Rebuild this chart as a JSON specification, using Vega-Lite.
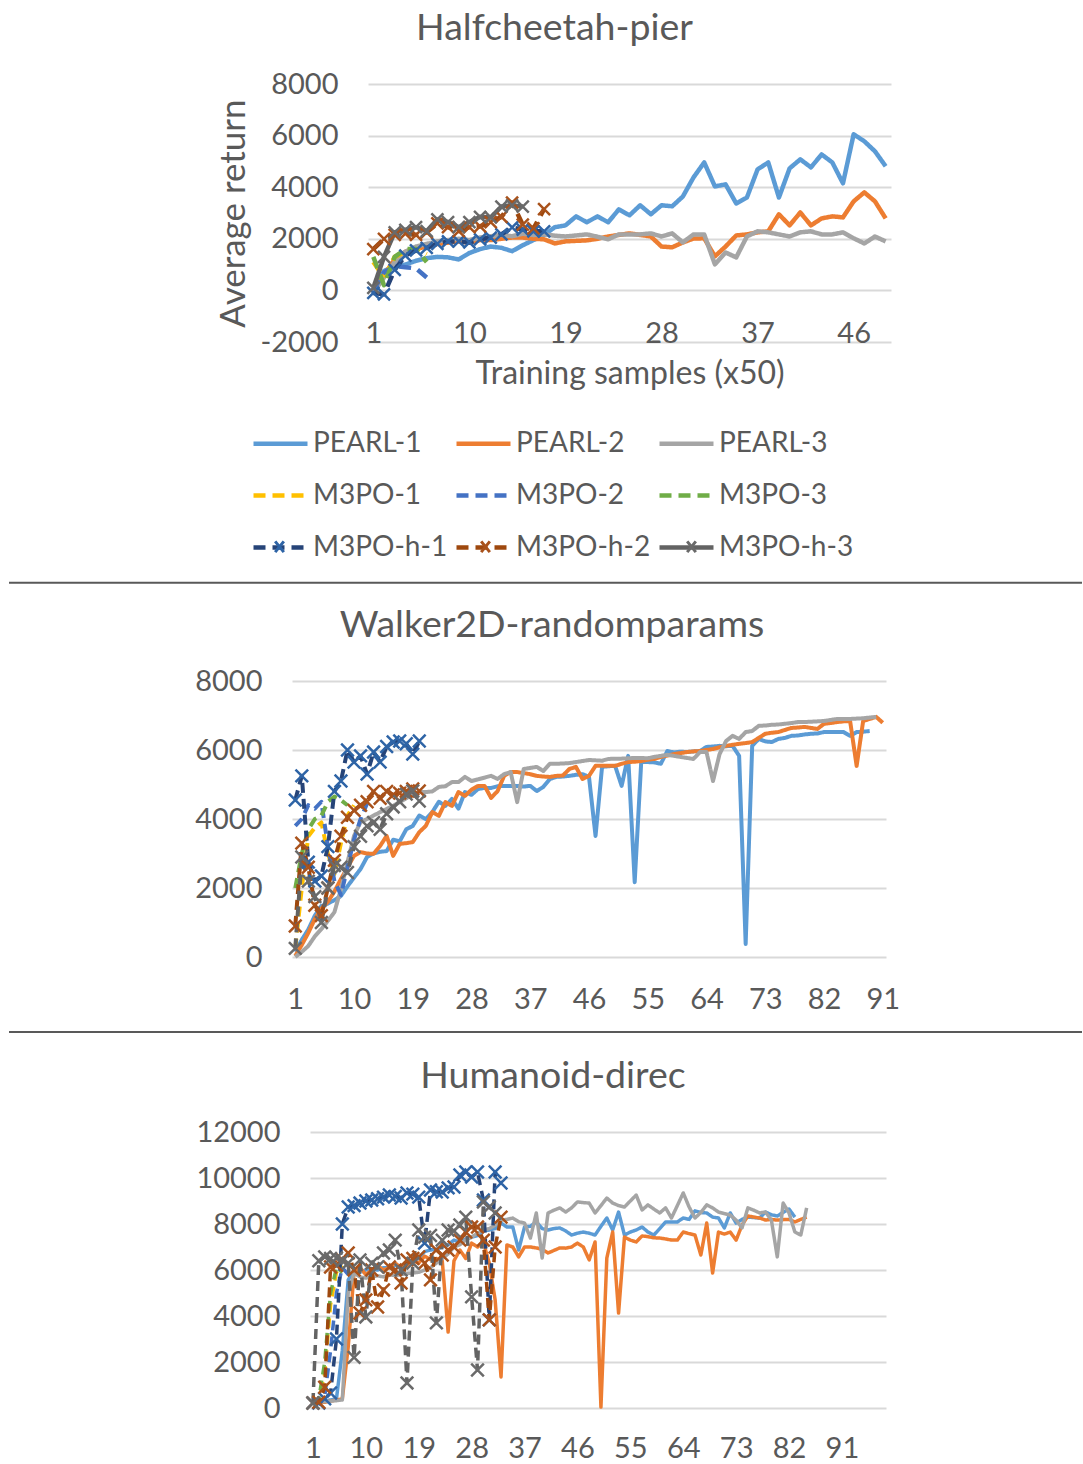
{
"$schema": "https://vega.github.io/schema/vega-lite/v6.json",
"background": "white",
"padding": {"left": 8, "top": 9, "right": 0, "bottom": 0},
"config": {
  "font": "Lato",
  "view": {"stroke": null},
  "axis": {"domain": false, "ticks": false, "tickSize": 0, "labelFont": "Lato", "labelFontSize": 29, "labelColor": "#595959", "labelFlush": false, "labelOverlap": false, "titleFont": "Lato", "titleFontSize": 33, "titleColor": "#595959", "titleFontWeight": "normal", "gridColor": "#D9D9D9", "gridWidth": 2},
  "axisX": {"grid": false, "labelAngle": 0, "labelBaseline": "middle"},
  "axisY": {"grid": true, "labelPadding": 30},
  "title": {"font": "Lato", "fontSize": 37.5, "color": "#595959", "fontWeight": "normal", "frame": "group", "anchor": "middle", "baseline": "middle", "offset": 23},
  "line": {"strokeJoin": "round", "strokeCap": "butt"}
},
"spacing": 16,
"resolve": {"scale": {"color": "independent", "strokeDash": "independent", "stroke": "independent"}},
"vconcat": [
{
  "spacing": 0,
  "resolve": {"scale": {"color": "independent", "strokeDash": "independent", "stroke": "independent"}},
  "hconcat": [
    {"width": 207, "height": 10, "data": {"values": []}, "mark": "point"},
    {
      "width": 523, "height": 258,
      "title": {"text": "Halfcheetah-pier", "dx": -75},
      "data": {"values": [
{"run":"PEARL-1","n":1,"ret":100},{"run":"PEARL-1","n":2,"ret":750},{"run":"PEARL-1","n":3,"ret":950},{"run":"PEARL-1","n":4,"ret":1000},{"run":"PEARL-1","n":5,"ret":1150},{"run":"PEARL-1","n":6,"ret":1250},{"run":"PEARL-1","n":7,"ret":1300},{"run":"PEARL-1","n":8,"ret":1280},{"run":"PEARL-1","n":9,"ret":1200},{"run":"PEARL-1","n":10,"ret":1450},
{"run":"PEARL-1","n":11,"ret":1600},{"run":"PEARL-1","n":12,"ret":1700},{"run":"PEARL-1","n":13,"ret":1650},{"run":"PEARL-1","n":14,"ret":1520},{"run":"PEARL-1","n":15,"ret":1750},{"run":"PEARL-1","n":16,"ret":1950},{"run":"PEARL-1","n":17,"ret":2150},{"run":"PEARL-1","n":18,"ret":2450},{"run":"PEARL-1","n":19,"ret":2520},{"run":"PEARL-1","n":20,"ret":2870},
{"run":"PEARL-1","n":21,"ret":2640},{"run":"PEARL-1","n":22,"ret":2870},{"run":"PEARL-1","n":23,"ret":2640},{"run":"PEARL-1","n":24,"ret":3140},{"run":"PEARL-1","n":25,"ret":2910},{"run":"PEARL-1","n":26,"ret":3300},{"run":"PEARL-1","n":27,"ret":2950},{"run":"PEARL-1","n":28,"ret":3300},{"run":"PEARL-1","n":29,"ret":3260},{"run":"PEARL-1","n":30,"ret":3640},
{"run":"PEARL-1","n":31,"ret":4380},{"run":"PEARL-1","n":32,"ret":4960},{"run":"PEARL-1","n":33,"ret":4030},{"run":"PEARL-1","n":34,"ret":4110},{"run":"PEARL-1","n":35,"ret":3370},{"run":"PEARL-1","n":36,"ret":3600},{"run":"PEARL-1","n":37,"ret":4690},{"run":"PEARL-1","n":38,"ret":4960},{"run":"PEARL-1","n":39,"ret":3600},{"run":"PEARL-1","n":40,"ret":4730},
{"run":"PEARL-1","n":41,"ret":5080},{"run":"PEARL-1","n":42,"ret":4770},{"run":"PEARL-1","n":43,"ret":5270},{"run":"PEARL-1","n":44,"ret":4960},{"run":"PEARL-1","n":45,"ret":4150},{"run":"PEARL-1","n":46,"ret":6050},{"run":"PEARL-1","n":47,"ret":5780},{"run":"PEARL-1","n":48,"ret":5390},{"run":"PEARL-1","n":49,"ret":4810},
{"run":"PEARL-2","n":1,"ret":0},{"run":"PEARL-2","n":2,"ret":600},{"run":"PEARL-2","n":3,"ret":1200},{"run":"PEARL-2","n":4,"ret":1500},{"run":"PEARL-2","n":5,"ret":1600},{"run":"PEARL-2","n":6,"ret":1700},{"run":"PEARL-2","n":7,"ret":1800},{"run":"PEARL-2","n":8,"ret":1850},{"run":"PEARL-2","n":9,"ret":1900},{"run":"PEARL-2","n":10,"ret":1850},
{"run":"PEARL-2","n":11,"ret":1950},{"run":"PEARL-2","n":12,"ret":1950},{"run":"PEARL-2","n":13,"ret":2000},{"run":"PEARL-2","n":14,"ret":2050},{"run":"PEARL-2","n":15,"ret":2050},{"run":"PEARL-2","n":16,"ret":2000},{"run":"PEARL-2","n":17,"ret":1980},{"run":"PEARL-2","n":18,"ret":1820},{"run":"PEARL-2","n":19,"ret":1900},{"run":"PEARL-2","n":20,"ret":1920},
{"run":"PEARL-2","n":21,"ret":1940},{"run":"PEARL-2","n":22,"ret":2000},{"run":"PEARL-2","n":23,"ret":2090},{"run":"PEARL-2","n":24,"ret":2150},{"run":"PEARL-2","n":25,"ret":2210},{"run":"PEARL-2","n":26,"ret":2150},{"run":"PEARL-2","n":27,"ret":2090},{"run":"PEARL-2","n":28,"ret":1700},{"run":"PEARL-2","n":29,"ret":1670},{"run":"PEARL-2","n":30,"ret":1860},
{"run":"PEARL-2","n":31,"ret":2010},{"run":"PEARL-2","n":32,"ret":2020},{"run":"PEARL-2","n":33,"ret":1320},{"run":"PEARL-2","n":34,"ret":1700},{"run":"PEARL-2","n":35,"ret":2130},{"run":"PEARL-2","n":36,"ret":2170},{"run":"PEARL-2","n":37,"ret":2250},{"run":"PEARL-2","n":38,"ret":2290},{"run":"PEARL-2","n":39,"ret":2950},{"run":"PEARL-2","n":40,"ret":2520},
{"run":"PEARL-2","n":41,"ret":3020},{"run":"PEARL-2","n":42,"ret":2520},{"run":"PEARL-2","n":43,"ret":2790},{"run":"PEARL-2","n":44,"ret":2870},{"run":"PEARL-2","n":45,"ret":2830},{"run":"PEARL-2","n":46,"ret":3450},{"run":"PEARL-2","n":47,"ret":3800},{"run":"PEARL-2","n":48,"ret":3450},{"run":"PEARL-2","n":49,"ret":2790},
{"run":"PEARL-3","n":1,"ret":-100},{"run":"PEARL-3","n":2,"ret":500},{"run":"PEARL-3","n":3,"ret":1100},{"run":"PEARL-3","n":4,"ret":1500},{"run":"PEARL-3","n":5,"ret":1700},{"run":"PEARL-3","n":6,"ret":1800},{"run":"PEARL-3","n":7,"ret":1900},{"run":"PEARL-3","n":8,"ret":1950},{"run":"PEARL-3","n":9,"ret":2000},{"run":"PEARL-3","n":10,"ret":1950},
{"run":"PEARL-3","n":11,"ret":2050},{"run":"PEARL-3","n":12,"ret":2100},{"run":"PEARL-3","n":13,"ret":2150},{"run":"PEARL-3","n":14,"ret":2100},{"run":"PEARL-3","n":15,"ret":2200},{"run":"PEARL-3","n":16,"ret":2150},{"run":"PEARL-3","n":17,"ret":2170},{"run":"PEARL-3","n":18,"ret":2120},{"run":"PEARL-3","n":19,"ret":2090},{"run":"PEARL-3","n":20,"ret":2130},
{"run":"PEARL-3","n":21,"ret":2170},{"run":"PEARL-3","n":22,"ret":2080},{"run":"PEARL-3","n":23,"ret":1980},{"run":"PEARL-3","n":24,"ret":2170},{"run":"PEARL-3","n":25,"ret":2170},{"run":"PEARL-3","n":26,"ret":2170},{"run":"PEARL-3","n":27,"ret":2210},{"run":"PEARL-3","n":28,"ret":2090},{"run":"PEARL-3","n":29,"ret":2210},{"run":"PEARL-3","n":30,"ret":1860},
{"run":"PEARL-3","n":31,"ret":2170},{"run":"PEARL-3","n":32,"ret":2170},{"run":"PEARL-3","n":33,"ret":1010},{"run":"PEARL-3","n":34,"ret":1470},{"run":"PEARL-3","n":35,"ret":1280},{"run":"PEARL-3","n":36,"ret":2090},{"run":"PEARL-3","n":37,"ret":2290},{"run":"PEARL-3","n":38,"ret":2250},{"run":"PEARL-3","n":39,"ret":2170},{"run":"PEARL-3","n":40,"ret":2090},
{"run":"PEARL-3","n":41,"ret":2250},{"run":"PEARL-3","n":42,"ret":2290},{"run":"PEARL-3","n":43,"ret":2170},{"run":"PEARL-3","n":44,"ret":2170},{"run":"PEARL-3","n":45,"ret":2250},{"run":"PEARL-3","n":46,"ret":2020},{"run":"PEARL-3","n":47,"ret":1820},{"run":"PEARL-3","n":48,"ret":2090},{"run":"PEARL-3","n":49,"ret":1900},
{"run":"M3PO-1","n":1,"ret":1100},{"run":"M3PO-1","n":2,"ret":500},{"run":"M3PO-1","n":3,"ret":1300},{"run":"M3PO-1","n":4,"ret":1500},{"run":"M3PO-1","n":5,"ret":1600},{"run":"M3PO-1","n":6,"ret":1400},
{"run":"M3PO-2","n":1,"ret":0},{"run":"M3PO-2","n":2,"ret":700},{"run":"M3PO-2","n":3,"ret":950},{"run":"M3PO-2","n":4,"ret":900},{"run":"M3PO-2","n":5,"ret":850},{"run":"M3PO-2","n":6,"ret":500},
{"run":"M3PO-3","n":1,"ret":1300},{"run":"M3PO-3","n":2,"ret":200},{"run":"M3PO-3","n":3,"ret":1300},{"run":"M3PO-3","n":4,"ret":1600},{"run":"M3PO-3","n":5,"ret":1600},{"run":"M3PO-3","n":6,"ret":1100},
{"run":"M3PO-h-1","n":1,"ret":-100},{"run":"M3PO-h-1","n":2,"ret":-150},{"run":"M3PO-h-1","n":3,"ret":800},{"run":"M3PO-h-1","n":4,"ret":1350},{"run":"M3PO-h-1","n":5,"ret":1550},{"run":"M3PO-h-1","n":6,"ret":1650},{"run":"M3PO-h-1","n":7,"ret":1800},{"run":"M3PO-h-1","n":8,"ret":1900},{"run":"M3PO-h-1","n":9,"ret":1900},{"run":"M3PO-h-1","n":10,"ret":1860},{"run":"M3PO-h-1","n":11,"ret":1980},{"run":"M3PO-h-1","n":12,"ret":2050},{"run":"M3PO-h-1","n":13,"ret":2170},{"run":"M3PO-h-1","n":14,"ret":2440},{"run":"M3PO-h-1","n":15,"ret":2360},{"run":"M3PO-h-1","n":16,"ret":2290},{"run":"M3PO-h-1","n":17,"ret":2290},
{"run":"M3PO-h-2","n":1,"ret":1600},{"run":"M3PO-h-2","n":2,"ret":2000},{"run":"M3PO-h-2","n":3,"ret":2150},{"run":"M3PO-h-2","n":4,"ret":2200},{"run":"M3PO-h-2","n":5,"ret":2150},{"run":"M3PO-h-2","n":6,"ret":2250},{"run":"M3PO-h-2","n":7,"ret":2600},{"run":"M3PO-h-2","n":8,"ret":2450},{"run":"M3PO-h-2","n":9,"ret":2300},{"run":"M3PO-h-2","n":10,"ret":2450},{"run":"M3PO-h-2","n":11,"ret":2480},{"run":"M3PO-h-2","n":12,"ret":2650},{"run":"M3PO-h-2","n":13,"ret":2850},{"run":"M3PO-h-2","n":14,"ret":3400},{"run":"M3PO-h-2","n":15,"ret":2550},{"run":"M3PO-h-2","n":16,"ret":2400},{"run":"M3PO-h-2","n":17,"ret":3150},
{"run":"M3PO-h-3","n":1,"ret":100},{"run":"M3PO-h-3","n":2,"ret":1300},{"run":"M3PO-h-3","n":3,"ret":2250},{"run":"M3PO-h-3","n":4,"ret":2350},{"run":"M3PO-h-3","n":5,"ret":2450},{"run":"M3PO-h-3","n":6,"ret":2300},{"run":"M3PO-h-3","n":7,"ret":2750},{"run":"M3PO-h-3","n":8,"ret":2650},{"run":"M3PO-h-3","n":9,"ret":2450},{"run":"M3PO-h-3","n":10,"ret":2650},{"run":"M3PO-h-3","n":11,"ret":2850},{"run":"M3PO-h-3","n":12,"ret":2830},{"run":"M3PO-h-3","n":13,"ret":3250},{"run":"M3PO-h-3","n":14,"ret":3300},{"run":"M3PO-h-3","n":15,"ret":3250}
      ]},
      "encoding": {
        "x": {"field": "n", "type": "quantitative", "scale": {"domain": [0.5, 49.5], "nice": false, "zero": false},
              "axis": {"values": [1,10,19,28,37,46], "labelExpr": "'' + datum.value", "title": "Training samples (x50)", "titleFontSize": 32, "offset": -9, "labelPadding": 0, "titlePadding": 10}},
        "y": {"field": "ret", "type": "quantitative", "scale": {"domain": [-2000, 8000], "nice": false, "zero": false},
              "axis": {"values": [-2000,0,2000,4000,6000,8000], "labelExpr": "'' + datum.value", "title": "Average return", "titleFontSize": 35, "titlePadding": 8}}
      },
      "layer": [
        {
          "transform": [{"filter": "indexof(datum.run, 'PEARL') == 0"}],
          "mark": {"type": "line", "strokeWidth": 4.5},
          "encoding": {
            "color": {"field": "run", "type": "nominal",
              "scale": {"domain": ["PEARL-1","PEARL-2","PEARL-3","M3PO-1","M3PO-2","M3PO-3","M3PO-h-1","M3PO-h-2","M3PO-h-3"], "range": ["#5B9BD5","#ED7D31","#A5A5A5","#FFC000","#4472C4","#70AD47","#264478","#9E480E","#636363"]},
              "legend": {"orient": "none", "legendX": -117, "legendY": 330, "title": null, "columns": 3, "direction": "horizontal", "gridAlign": "all", "symbolType": "stroke", "symbolSize": 2916, "symbolStrokeWidth": 4.5, "labelFont": "Lato", "labelFontSize": 28, "labelColor": "#595959", "labelOffset": 3, "labelLimit": 400, "columnPadding": 6, "rowPadding": 8, "padding": 0, "symbolLimit": 0}},
            "strokeDash": {"field": "run", "type": "nominal",
              "scale": {"domain": ["PEARL-1","PEARL-2","PEARL-3","M3PO-1","M3PO-2","M3PO-3","M3PO-h-1","M3PO-h-2","M3PO-h-3"], "range": [[1,0],[1,0],[1,0],[12,7],[12,7],[12,7],[12,7],[12,7],[1,0]]},
              "legend": null}
          }
        },
        {
          "transform": [{"filter": "indexof(datum.run, 'M3PO') == 0"}],
          "mark": {"type": "line", "strokeWidth": 4.5},
          "encoding": {
            "color": {"field": "run", "type": "nominal",
              "scale": {"domain": ["PEARL-1","PEARL-2","PEARL-3","M3PO-1","M3PO-2","M3PO-3","M3PO-h-1","M3PO-h-2","M3PO-h-3"], "range": ["#5B9BD5","#ED7D31","#A5A5A5","#FFC000","#4472C4","#70AD47","#264478","#9E480E","#636363"]},
              "legend": null},
            "strokeDash": {"field": "run", "type": "nominal",
              "scale": {"domain": ["PEARL-1","PEARL-2","PEARL-3","M3PO-1","M3PO-2","M3PO-3","M3PO-h-1","M3PO-h-2","M3PO-h-3"], "range": [[1,0],[1,0],[1,0],[12,7],[12,7],[12,7],[12,7],[12,7],[1,0]]},
              "legend": null}
          }
        },
        {
          "transform": [{"filter": "indexof(datum.run, 'M3PO-h') == 0"}],
          "mark": {"type": "point", "shape": "M-1,-1L1,1M-1,1L1,-1", "filled": false, "strokeWidth": 2.5, "size": 144, "opacity": 1},
          "encoding": {
            "stroke": {"field": "run", "type": "nominal", "scale": {"domain": ["M3PO-h-1","M3PO-h-2","M3PO-h-3"], "range": ["#2E64A6","#A9521B","#6A6A6A"]},
              "legend": {"orient": "none", "legendX": -117, "legendY": 434, "title": null, "columns": 3, "direction": "horizontal", "gridAlign": "all", "symbolType": "M-0.16,-0.2L0.16,0.2M-0.16,0.2L0.16,-0.2", "symbolSize": 2916, "symbolStrokeWidth": 3, "symbolFillColor": "transparent", "labelFont": "Lato", "labelFontSize": 28, "labelExpr": "''", "labelOffset": 3, "labelLimit": 400, "columnPadding": 146, "rowPadding": 8, "padding": 0, "symbolLimit": 0}}
          }
        }
      ]
    }
  ]
},
{
  "width": 1073, "height": 12,
  "data": {"values": [{"part": "divider"}]},
  "mark": {"type": "rule", "color": "#595959", "strokeWidth": 2},
  "encoding": {"y": {"datum": 0.6, "type": "quantitative", "scale": {"domain": [0, 1]}, "axis": null}}
},
{
  "spacing": 0,
  "resolve": {"scale": {"color": "independent", "strokeDash": "independent", "stroke": "independent"}},
  "hconcat": [
    {"width": 185, "height": 10, "data": {"values": []}, "mark": "point"},
    {
      "width": 594, "height": 276,
      "title": {"text": "Walker2D-randomparams", "dx": -37},
      "data": {"values": [
{"run":"PEARL-1","n":1,"ret":150},{"run":"PEARL-1","n":2,"ret":500},{"run":"PEARL-1","n":3,"ret":800},{"run":"PEARL-1","n":4,"ret":1200},{"run":"PEARL-1","n":5,"ret":1480},{"run":"PEARL-1","n":6,"ret":1550},{"run":"PEARL-1","n":7,"ret":1650},{"run":"PEARL-1","n":8,"ret":1770},{"run":"PEARL-1","n":9,"ret":2050},{"run":"PEARL-1","n":10,"ret":2300},
{"run":"PEARL-1","n":11,"ret":2550},{"run":"PEARL-1","n":12,"ret":2900},{"run":"PEARL-1","n":13,"ret":3000},{"run":"PEARL-1","n":14,"ret":3050},{"run":"PEARL-1","n":15,"ret":3070},{"run":"PEARL-1","n":16,"ret":3400},{"run":"PEARL-1","n":17,"ret":3350},{"run":"PEARL-1","n":18,"ret":3700},{"run":"PEARL-1","n":19,"ret":3800},{"run":"PEARL-1","n":20,"ret":4100},
{"run":"PEARL-1","n":21,"ret":4000},{"run":"PEARL-1","n":22,"ret":4200},{"run":"PEARL-1","n":23,"ret":4500},{"run":"PEARL-1","n":24,"ret":4380},{"run":"PEARL-1","n":25,"ret":4580},{"run":"PEARL-1","n":26,"ret":4300},{"run":"PEARL-1","n":27,"ret":4780},{"run":"PEARL-1","n":28,"ret":4700},{"run":"PEARL-1","n":29,"ret":4870},{"run":"PEARL-1","n":30,"ret":4900},
{"run":"PEARL-1","n":31,"ret":4900},{"run":"PEARL-1","n":32,"ret":4950},{"run":"PEARL-1","n":33,"ret":4960},{"run":"PEARL-1","n":34,"ret":4960},{"run":"PEARL-1","n":35,"ret":4960},{"run":"PEARL-1","n":36,"ret":4940},{"run":"PEARL-1","n":37,"ret":4960},{"run":"PEARL-1","n":38,"ret":4810},{"run":"PEARL-1","n":39,"ret":4930},{"run":"PEARL-1","n":40,"ret":5160},
{"run":"PEARL-1","n":41,"ret":5220},{"run":"PEARL-1","n":42,"ret":5230},{"run":"PEARL-1","n":43,"ret":5250},{"run":"PEARL-1","n":44,"ret":5280},{"run":"PEARL-1","n":45,"ret":5300},{"run":"PEARL-1","n":46,"ret":5220},{"run":"PEARL-1","n":47,"ret":3510},{"run":"PEARL-1","n":48,"ret":5510},{"run":"PEARL-1","n":49,"ret":5530},{"run":"PEARL-1","n":50,"ret":5540},
{"run":"PEARL-1","n":51,"ret":4960},{"run":"PEARL-1","n":52,"ret":5830},{"run":"PEARL-1","n":53,"ret":2170},{"run":"PEARL-1","n":54,"ret":5650},{"run":"PEARL-1","n":55,"ret":5650},{"run":"PEARL-1","n":56,"ret":5640},{"run":"PEARL-1","n":57,"ret":5600},{"run":"PEARL-1","n":58,"ret":5970},{"run":"PEARL-1","n":59,"ret":5930},{"run":"PEARL-1","n":60,"ret":5950},
{"run":"PEARL-1","n":61,"ret":5940},{"run":"PEARL-1","n":62,"ret":5960},{"run":"PEARL-1","n":63,"ret":5970},{"run":"PEARL-1","n":64,"ret":6090},{"run":"PEARL-1","n":65,"ret":6100},{"run":"PEARL-1","n":66,"ret":6120},{"run":"PEARL-1","n":67,"ret":6110},{"run":"PEARL-1","n":68,"ret":6120},{"run":"PEARL-1","n":69,"ret":5830},{"run":"PEARL-1","n":70,"ret":380},
{"run":"PEARL-1","n":71,"ret":6120},{"run":"PEARL-1","n":72,"ret":6320},{"run":"PEARL-1","n":73,"ret":6250},{"run":"PEARL-1","n":74,"ret":6230},{"run":"PEARL-1","n":75,"ret":6320},{"run":"PEARL-1","n":76,"ret":6350},{"run":"PEARL-1","n":77,"ret":6410},{"run":"PEARL-1","n":78,"ret":6420},{"run":"PEARL-1","n":79,"ret":6450},{"run":"PEARL-1","n":80,"ret":6470},
{"run":"PEARL-1","n":81,"ret":6480},{"run":"PEARL-1","n":82,"ret":6520},{"run":"PEARL-1","n":83,"ret":6520},{"run":"PEARL-1","n":84,"ret":6520},{"run":"PEARL-1","n":85,"ret":6520},{"run":"PEARL-1","n":86,"ret":6410},{"run":"PEARL-1","n":87,"ret":6520},{"run":"PEARL-1","n":88,"ret":6530},{"run":"PEARL-1","n":89,"ret":6550},
{"run":"PEARL-2","n":1,"ret":30},{"run":"PEARL-2","n":2,"ret":350},{"run":"PEARL-2","n":3,"ret":700},{"run":"PEARL-2","n":4,"ret":1100},{"run":"PEARL-2","n":5,"ret":1400},{"run":"PEARL-2","n":6,"ret":1600},{"run":"PEARL-2","n":7,"ret":1900},{"run":"PEARL-2","n":8,"ret":2260},{"run":"PEARL-2","n":9,"ret":2600},{"run":"PEARL-2","n":10,"ret":2930},
{"run":"PEARL-2","n":11,"ret":3040},{"run":"PEARL-2","n":12,"ret":3000},{"run":"PEARL-2","n":13,"ret":2990},{"run":"PEARL-2","n":14,"ret":3220},{"run":"PEARL-2","n":15,"ret":3510},{"run":"PEARL-2","n":16,"ret":2930},{"run":"PEARL-2","n":17,"ret":3280},{"run":"PEARL-2","n":18,"ret":3300},{"run":"PEARL-2","n":19,"ret":3330},{"run":"PEARL-2","n":20,"ret":3620},
{"run":"PEARL-2","n":21,"ret":3800},{"run":"PEARL-2","n":22,"ret":4200},{"run":"PEARL-2","n":23,"ret":4090},{"run":"PEARL-2","n":24,"ret":4490},{"run":"PEARL-2","n":25,"ret":4380},{"run":"PEARL-2","n":26,"ret":4780},{"run":"PEARL-2","n":27,"ret":4670},{"run":"PEARL-2","n":28,"ret":4850},{"run":"PEARL-2","n":29,"ret":4960},{"run":"PEARL-2","n":30,"ret":4960},
{"run":"PEARL-2","n":31,"ret":4610},{"run":"PEARL-2","n":32,"ret":4810},{"run":"PEARL-2","n":33,"ret":5250},{"run":"PEARL-2","n":34,"ret":5360},{"run":"PEARL-2","n":35,"ret":5360},{"run":"PEARL-2","n":36,"ret":5330},{"run":"PEARL-2","n":37,"ret":5300},{"run":"PEARL-2","n":38,"ret":5250},{"run":"PEARL-2","n":39,"ret":5230},{"run":"PEARL-2","n":40,"ret":5220},
{"run":"PEARL-2","n":41,"ret":5250},{"run":"PEARL-2","n":42,"ret":5260},{"run":"PEARL-2","n":43,"ret":5450},{"run":"PEARL-2","n":44,"ret":5510},{"run":"PEARL-2","n":45,"ret":5160},{"run":"PEARL-2","n":46,"ret":5250},{"run":"PEARL-2","n":47,"ret":5540},{"run":"PEARL-2","n":48,"ret":5540},{"run":"PEARL-2","n":49,"ret":5540},{"run":"PEARL-2","n":50,"ret":5540},
{"run":"PEARL-2","n":51,"ret":5600},{"run":"PEARL-2","n":52,"ret":5650},{"run":"PEARL-2","n":53,"ret":5660},{"run":"PEARL-2","n":54,"ret":5680},{"run":"PEARL-2","n":55,"ret":5720},{"run":"PEARL-2","n":56,"ret":5740},{"run":"PEARL-2","n":57,"ret":5800},{"run":"PEARL-2","n":58,"ret":5840},{"run":"PEARL-2","n":59,"ret":5880},{"run":"PEARL-2","n":60,"ret":5910},
{"run":"PEARL-2","n":61,"ret":5940},{"run":"PEARL-2","n":62,"ret":5960},{"run":"PEARL-2","n":63,"ret":5970},{"run":"PEARL-2","n":64,"ret":6000},{"run":"PEARL-2","n":65,"ret":6030},{"run":"PEARL-2","n":66,"ret":6080},{"run":"PEARL-2","n":67,"ret":6120},{"run":"PEARL-2","n":68,"ret":6150},{"run":"PEARL-2","n":69,"ret":6180},{"run":"PEARL-2","n":70,"ret":6200},
{"run":"PEARL-2","n":71,"ret":6230},{"run":"PEARL-2","n":72,"ret":6350},{"run":"PEARL-2","n":73,"ret":6470},{"run":"PEARL-2","n":74,"ret":6500},{"run":"PEARL-2","n":75,"ret":6520},{"run":"PEARL-2","n":76,"ret":6580},{"run":"PEARL-2","n":77,"ret":6640},{"run":"PEARL-2","n":78,"ret":6650},{"run":"PEARL-2","n":79,"ret":6670},{"run":"PEARL-2","n":80,"ret":6640},
{"run":"PEARL-2","n":81,"ret":6610},{"run":"PEARL-2","n":82,"ret":6760},{"run":"PEARL-2","n":83,"ret":6780},{"run":"PEARL-2","n":84,"ret":6810},{"run":"PEARL-2","n":85,"ret":6830},{"run":"PEARL-2","n":86,"ret":6840},{"run":"PEARL-2","n":87,"ret":5540},{"run":"PEARL-2","n":88,"ret":6840},{"run":"PEARL-2","n":89,"ret":6900},{"run":"PEARL-2","n":90,"ret":6960},{"run":"PEARL-2","n":91,"ret":6790},
{"run":"PEARL-3","n":1,"ret":0},{"run":"PEARL-3","n":2,"ret":150},{"run":"PEARL-3","n":3,"ret":320},{"run":"PEARL-3","n":4,"ret":600},{"run":"PEARL-3","n":5,"ret":810},{"run":"PEARL-3","n":6,"ret":1050},{"run":"PEARL-3","n":7,"ret":1300},{"run":"PEARL-3","n":8,"ret":1970},{"run":"PEARL-3","n":9,"ret":2750},{"run":"PEARL-3","n":10,"ret":3510},
{"run":"PEARL-3","n":11,"ret":3910},{"run":"PEARL-3","n":12,"ret":4000},{"run":"PEARL-3","n":13,"ret":4100},{"run":"PEARL-3","n":14,"ret":4200},{"run":"PEARL-3","n":15,"ret":4290},{"run":"PEARL-3","n":16,"ret":4380},{"run":"PEARL-3","n":17,"ret":4490},{"run":"PEARL-3","n":18,"ret":4600},{"run":"PEARL-3","n":19,"ret":4720},{"run":"PEARL-3","n":20,"ret":4780},
{"run":"PEARL-3","n":21,"ret":4780},{"run":"PEARL-3","n":22,"ret":4800},{"run":"PEARL-3","n":23,"ret":4930},{"run":"PEARL-3","n":24,"ret":4950},{"run":"PEARL-3","n":25,"ret":5070},{"run":"PEARL-3","n":26,"ret":5070},{"run":"PEARL-3","n":27,"ret":5220},{"run":"PEARL-3","n":28,"ret":5100},{"run":"PEARL-3","n":29,"ret":5150},{"run":"PEARL-3","n":30,"ret":5200},
{"run":"PEARL-3","n":31,"ret":5250},{"run":"PEARL-3","n":32,"ret":5160},{"run":"PEARL-3","n":33,"ret":5300},{"run":"PEARL-3","n":34,"ret":5360},{"run":"PEARL-3","n":35,"ret":4490},{"run":"PEARL-3","n":36,"ret":5450},{"run":"PEARL-3","n":37,"ret":5480},{"run":"PEARL-3","n":38,"ret":5510},{"run":"PEARL-3","n":39,"ret":5390},{"run":"PEARL-3","n":40,"ret":5600},
{"run":"PEARL-3","n":41,"ret":5600},{"run":"PEARL-3","n":42,"ret":5610},{"run":"PEARL-3","n":43,"ret":5620},{"run":"PEARL-3","n":44,"ret":5650},{"run":"PEARL-3","n":45,"ret":5680},{"run":"PEARL-3","n":46,"ret":5710},{"run":"PEARL-3","n":47,"ret":5700},{"run":"PEARL-3","n":48,"ret":5690},{"run":"PEARL-3","n":49,"ret":5740},{"run":"PEARL-3","n":50,"ret":5750},
{"run":"PEARL-3","n":51,"ret":5750},{"run":"PEARL-3","n":52,"ret":5760},{"run":"PEARL-3","n":53,"ret":5770},{"run":"PEARL-3","n":54,"ret":5770},{"run":"PEARL-3","n":55,"ret":5760},{"run":"PEARL-3","n":56,"ret":5800},{"run":"PEARL-3","n":57,"ret":5830},{"run":"PEARL-3","n":58,"ret":5860},{"run":"PEARL-3","n":59,"ret":5830},{"run":"PEARL-3","n":60,"ret":5800},
{"run":"PEARL-3","n":61,"ret":5770},{"run":"PEARL-3","n":62,"ret":5740},{"run":"PEARL-3","n":63,"ret":5940},{"run":"PEARL-3","n":64,"ret":5940},{"run":"PEARL-3","n":65,"ret":5100},{"run":"PEARL-3","n":66,"ret":5880},{"run":"PEARL-3","n":67,"ret":6260},{"run":"PEARL-3","n":68,"ret":6410},{"run":"PEARL-3","n":69,"ret":6320},{"run":"PEARL-3","n":70,"ret":6520},
{"run":"PEARL-3","n":71,"ret":6550},{"run":"PEARL-3","n":72,"ret":6700},{"run":"PEARL-3","n":73,"ret":6710},{"run":"PEARL-3","n":74,"ret":6730},{"run":"PEARL-3","n":75,"ret":6740},{"run":"PEARL-3","n":76,"ret":6760},{"run":"PEARL-3","n":77,"ret":6780},{"run":"PEARL-3","n":78,"ret":6810},{"run":"PEARL-3","n":79,"ret":6810},{"run":"PEARL-3","n":80,"ret":6820},
{"run":"PEARL-3","n":81,"ret":6830},{"run":"PEARL-3","n":82,"ret":6840},{"run":"PEARL-3","n":83,"ret":6870},{"run":"PEARL-3","n":84,"ret":6900},{"run":"PEARL-3","n":85,"ret":6900},{"run":"PEARL-3","n":86,"ret":6900},{"run":"PEARL-3","n":87,"ret":6910},{"run":"PEARL-3","n":88,"ret":6920},{"run":"PEARL-3","n":89,"ret":6940},{"run":"PEARL-3","n":90,"ret":6960},
{"run":"M3PO-1","n":1,"ret":250},{"run":"M3PO-1","n":2,"ret":2000},{"run":"M3PO-1","n":3,"ret":3500},{"run":"M3PO-1","n":4,"ret":3750},{"run":"M3PO-1","n":5,"ret":3900},{"run":"M3PO-1","n":6,"ret":3000},{"run":"M3PO-1","n":7,"ret":2400},{"run":"M3PO-1","n":8,"ret":3300},{"run":"M3PO-1","n":9,"ret":4100},{"run":"M3PO-1","n":10,"ret":4400},
{"run":"M3PO-2","n":1,"ret":3800},{"run":"M3PO-2","n":2,"ret":4000},{"run":"M3PO-2","n":3,"ret":4400},{"run":"M3PO-2","n":4,"ret":4300},{"run":"M3PO-2","n":5,"ret":4500},{"run":"M3PO-2","n":6,"ret":3200},{"run":"M3PO-2","n":7,"ret":2200},{"run":"M3PO-2","n":8,"ret":1800},{"run":"M3PO-2","n":9,"ret":2600},{"run":"M3PO-2","n":10,"ret":3400},{"run":"M3PO-2","n":11,"ret":4000},{"run":"M3PO-2","n":12,"ret":4450},
{"run":"M3PO-3","n":1,"ret":2000},{"run":"M3PO-3","n":2,"ret":3000},{"run":"M3PO-3","n":3,"ret":3700},{"run":"M3PO-3","n":4,"ret":4000},{"run":"M3PO-3","n":5,"ret":4100},{"run":"M3PO-3","n":6,"ret":4500},{"run":"M3PO-3","n":7,"ret":4650},{"run":"M3PO-3","n":8,"ret":4550},{"run":"M3PO-3","n":9,"ret":4400},
{"run":"M3PO-h-1","n":1,"ret":4550},{"run":"M3PO-h-1","n":2,"ret":5250},{"run":"M3PO-h-1","n":3,"ret":2750},{"run":"M3PO-h-1","n":4,"ret":2200},{"run":"M3PO-h-1","n":5,"ret":2350},{"run":"M3PO-h-1","n":6,"ret":3200},{"run":"M3PO-h-1","n":7,"ret":4800},{"run":"M3PO-h-1","n":8,"ret":5100},{"run":"M3PO-h-1","n":9,"ret":6000},{"run":"M3PO-h-1","n":10,"ret":5650},
{"run":"M3PO-h-1","n":11,"ret":5830},{"run":"M3PO-h-1","n":12,"ret":5300},{"run":"M3PO-h-1","n":13,"ret":5940},{"run":"M3PO-h-1","n":14,"ret":5650},{"run":"M3PO-h-1","n":15,"ret":6100},{"run":"M3PO-h-1","n":16,"ret":6230},{"run":"M3PO-h-1","n":17,"ret":6260},{"run":"M3PO-h-1","n":18,"ret":6180},{"run":"M3PO-h-1","n":19,"ret":5880},{"run":"M3PO-h-1","n":20,"ret":6260},
{"run":"M3PO-h-2","n":1,"ret":900},{"run":"M3PO-h-2","n":2,"ret":3300},{"run":"M3PO-h-2","n":3,"ret":2600},{"run":"M3PO-h-2","n":4,"ret":1500},{"run":"M3PO-h-2","n":5,"ret":1200},{"run":"M3PO-h-2","n":6,"ret":2000},{"run":"M3PO-h-2","n":7,"ret":2800},{"run":"M3PO-h-2","n":8,"ret":3500},{"run":"M3PO-h-2","n":9,"ret":4050},{"run":"M3PO-h-2","n":10,"ret":4250},
{"run":"M3PO-h-2","n":11,"ret":4400},{"run":"M3PO-h-2","n":12,"ret":4500},{"run":"M3PO-h-2","n":13,"ret":4800},{"run":"M3PO-h-2","n":14,"ret":4600},{"run":"M3PO-h-2","n":15,"ret":4800},{"run":"M3PO-h-2","n":16,"ret":4700},{"run":"M3PO-h-2","n":17,"ret":4750},{"run":"M3PO-h-2","n":18,"ret":4800},{"run":"M3PO-h-2","n":19,"ret":4870},{"run":"M3PO-h-2","n":20,"ret":4810},
{"run":"M3PO-h-3","n":1,"ret":250},{"run":"M3PO-h-3","n":2,"ret":2900},{"run":"M3PO-h-3","n":3,"ret":2200},{"run":"M3PO-h-3","n":4,"ret":1750},{"run":"M3PO-h-3","n":5,"ret":1000},{"run":"M3PO-h-3","n":6,"ret":2000},{"run":"M3PO-h-3","n":7,"ret":2650},{"run":"M3PO-h-3","n":8,"ret":2600},{"run":"M3PO-h-3","n":9,"ret":2450},{"run":"M3PO-h-3","n":10,"ret":3200},
{"run":"M3PO-h-3","n":11,"ret":3500},{"run":"M3PO-h-3","n":12,"ret":3800},{"run":"M3PO-h-3","n":13,"ret":3900},{"run":"M3PO-h-3","n":14,"ret":3700},{"run":"M3PO-h-3","n":15,"ret":4150},{"run":"M3PO-h-3","n":16,"ret":4350},{"run":"M3PO-h-3","n":17,"ret":4500},{"run":"M3PO-h-3","n":18,"ret":4720},{"run":"M3PO-h-3","n":19,"ret":4810},{"run":"M3PO-h-3","n":20,"ret":4520}
      ]},
      "encoding": {
        "x": {"field": "n", "type": "quantitative", "scale": {"domain": [0.5, 91.5], "nice": false, "zero": false},
              "axis": {"values": [1,10,19,28,37,46,55,64,73,82,91], "labelExpr": "'' + datum.value", "title": null, "labelPadding": 42}},
        "y": {"field": "ret", "type": "quantitative", "scale": {"domain": [0, 8000], "nice": false, "zero": false},
              "axis": {"values": [0,2000,4000,6000,8000], "labelExpr": "'' + datum.value", "title": null}}
      },
      "layer": [
        {
          "transform": [{"filter": "indexof(datum.run, 'PEARL') == 0"}],
          "mark": {"type": "line", "strokeWidth": 4},
          "encoding": {
            "color": {"field": "run", "type": "nominal",
              "scale": {"domain": ["PEARL-1","PEARL-2","PEARL-3","M3PO-1","M3PO-2","M3PO-3","M3PO-h-1","M3PO-h-2","M3PO-h-3"], "range": ["#5B9BD5","#ED7D31","#A5A5A5","#FFC000","#4472C4","#70AD47","#264478","#9E480E","#636363"]},
              "legend": null},
            "strokeDash": {"field": "run", "type": "nominal",
              "scale": {"domain": ["PEARL-1","PEARL-2","PEARL-3","M3PO-1","M3PO-2","M3PO-3","M3PO-h-1","M3PO-h-2","M3PO-h-3"], "range": [[1,0],[1,0],[1,0],[10,6],[10,6],[10,6],[10,6],[10,6],[10,6]]},
              "legend": null}
          }
        },
        {
          "transform": [{"filter": "indexof(datum.run, 'M3PO') == 0"}],
          "mark": {"type": "line", "strokeWidth": 4},
          "encoding": {
            "color": {"field": "run", "type": "nominal",
              "scale": {"domain": ["PEARL-1","PEARL-2","PEARL-3","M3PO-1","M3PO-2","M3PO-3","M3PO-h-1","M3PO-h-2","M3PO-h-3"], "range": ["#5B9BD5","#ED7D31","#A5A5A5","#FFC000","#4472C4","#70AD47","#264478","#9E480E","#636363"]},
              "legend": null},
            "strokeDash": {"field": "run", "type": "nominal",
              "scale": {"domain": ["PEARL-1","PEARL-2","PEARL-3","M3PO-1","M3PO-2","M3PO-3","M3PO-h-1","M3PO-h-2","M3PO-h-3"], "range": [[1,0],[1,0],[1,0],[10,6],[10,6],[10,6],[10,6],[10,6],[10,6]]},
              "legend": null}
          }
        },
        {
          "transform": [{"filter": "indexof(datum.run, 'M3PO-h') == 0"}],
          "mark": {"type": "point", "shape": "M-1,-1L1,1M-1,1L1,-1", "filled": false, "strokeWidth": 2.5, "size": 160, "opacity": 1},
          "encoding": {
            "stroke": {"field": "run", "type": "nominal", "scale": {"domain": ["M3PO-h-1","M3PO-h-2","M3PO-h-3"], "range": ["#2E64A6","#A9521B","#6A6A6A"]}, "legend": null}
          }
        }
      ]
    }
  ]
},
{
  "width": 1073, "height": 10,
  "data": {"values": [{"part": "divider"}]},
  "mark": {"type": "rule", "color": "#595959", "strokeWidth": 2},
  "encoding": {"y": {"datum": 0.9, "type": "quantitative", "scale": {"domain": [0, 1]}, "axis": null}}
},
{
  "spacing": 0,
  "resolve": {"scale": {"color": "independent", "strokeDash": "independent", "stroke": "independent"}},
  "hconcat": [
    {"width": 186, "height": 10, "data": {"values": []}, "mark": "point"},
    {
      "width": 576, "height": 276,
      "title": {"text": "Humanoid-direc", "dx": -45},
      "data": {"values": [
{"run":"PEARL-1","n":1,"ret":300},{"run":"PEARL-1","n":2,"ret":300},{"run":"PEARL-1","n":3,"ret":320},{"run":"PEARL-1","n":4,"ret":350},{"run":"PEARL-1","n":5,"ret":400},{"run":"PEARL-1","n":6,"ret":2500},{"run":"PEARL-1","n":7,"ret":5570},{"run":"PEARL-1","n":8,"ret":6000},{"run":"PEARL-1","n":9,"ret":5900},{"run":"PEARL-1","n":10,"ret":6000},
{"run":"PEARL-1","n":11,"ret":6050},{"run":"PEARL-1","n":12,"ret":6000},{"run":"PEARL-1","n":13,"ret":6100},{"run":"PEARL-1","n":14,"ret":6100},{"run":"PEARL-1","n":15,"ret":6200},{"run":"PEARL-1","n":16,"ret":6150},{"run":"PEARL-1","n":17,"ret":6300},{"run":"PEARL-1","n":18,"ret":6400},{"run":"PEARL-1","n":19,"ret":6500},{"run":"PEARL-1","n":20,"ret":6800},
{"run":"PEARL-1","n":21,"ret":6870},{"run":"PEARL-1","n":22,"ret":6900},{"run":"PEARL-1","n":23,"ret":7000},{"run":"PEARL-1","n":24,"ret":7100},{"run":"PEARL-1","n":25,"ret":7300},{"run":"PEARL-1","n":26,"ret":7200},{"run":"PEARL-1","n":27,"ret":7350},{"run":"PEARL-1","n":28,"ret":7430},{"run":"PEARL-1","n":29,"ret":7500},{"run":"PEARL-1","n":30,"ret":7700},
{"run":"PEARL-1","n":31,"ret":7740},{"run":"PEARL-1","n":32,"ret":7800},{"run":"PEARL-1","n":33,"ret":8040},{"run":"PEARL-1","n":34,"ret":7870},{"run":"PEARL-1","n":35,"ret":7870},{"run":"PEARL-1","n":36,"ret":6870},{"run":"PEARL-1","n":37,"ret":7870},{"run":"PEARL-1","n":38,"ret":7900},{"run":"PEARL-1","n":39,"ret":8090},{"run":"PEARL-1","n":40,"ret":7800},
{"run":"PEARL-1","n":41,"ret":7740},{"run":"PEARL-1","n":42,"ret":7800},{"run":"PEARL-1","n":43,"ret":7830},{"run":"PEARL-1","n":44,"ret":7700},{"run":"PEARL-1","n":45,"ret":7520},{"run":"PEARL-1","n":46,"ret":7600},{"run":"PEARL-1","n":47,"ret":7650},{"run":"PEARL-1","n":48,"ret":7600},{"run":"PEARL-1","n":49,"ret":7520},{"run":"PEARL-1","n":50,"ret":7900},
{"run":"PEARL-1","n":51,"ret":8260},{"run":"PEARL-1","n":52,"ret":7740},{"run":"PEARL-1","n":53,"ret":8520},{"run":"PEARL-1","n":54,"ret":7520},{"run":"PEARL-1","n":55,"ret":7650},{"run":"PEARL-1","n":56,"ret":7740},{"run":"PEARL-1","n":57,"ret":7870},{"run":"PEARL-1","n":58,"ret":7650},{"run":"PEARL-1","n":59,"ret":7520},{"run":"PEARL-1","n":60,"ret":7800},
{"run":"PEARL-1","n":61,"ret":8090},{"run":"PEARL-1","n":62,"ret":8090},{"run":"PEARL-1","n":63,"ret":8090},{"run":"PEARL-1","n":64,"ret":8260},{"run":"PEARL-1","n":65,"ret":8200},{"run":"PEARL-1","n":66,"ret":8570},{"run":"PEARL-1","n":67,"ret":8500},{"run":"PEARL-1","n":68,"ret":8480},{"run":"PEARL-1","n":69,"ret":8300},{"run":"PEARL-1","n":70,"ret":8260},
{"run":"PEARL-1","n":71,"ret":7830},{"run":"PEARL-1","n":72,"ret":8480},{"run":"PEARL-1","n":73,"ret":8040},{"run":"PEARL-1","n":74,"ret":8200},{"run":"PEARL-1","n":75,"ret":8300},{"run":"PEARL-1","n":76,"ret":8280},{"run":"PEARL-1","n":77,"ret":8260},{"run":"PEARL-1","n":78,"ret":8520},{"run":"PEARL-1","n":79,"ret":8400},{"run":"PEARL-1","n":80,"ret":8350},
{"run":"PEARL-1","n":81,"ret":8500},{"run":"PEARL-1","n":82,"ret":8650},{"run":"PEARL-1","n":83,"ret":8300},
{"run":"PEARL-2","n":1,"ret":200},{"run":"PEARL-2","n":2,"ret":250},{"run":"PEARL-2","n":3,"ret":250},{"run":"PEARL-2","n":4,"ret":300},{"run":"PEARL-2","n":5,"ret":350},{"run":"PEARL-2","n":6,"ret":400},{"run":"PEARL-2","n":7,"ret":2650},{"run":"PEARL-2","n":8,"ret":5900},{"run":"PEARL-2","n":9,"ret":6100},{"run":"PEARL-2","n":10,"ret":5800},
{"run":"PEARL-2","n":11,"ret":6000},{"run":"PEARL-2","n":12,"ret":6200},{"run":"PEARL-2","n":13,"ret":6000},{"run":"PEARL-2","n":14,"ret":6100},{"run":"PEARL-2","n":15,"ret":6300},{"run":"PEARL-2","n":16,"ret":6100},{"run":"PEARL-2","n":17,"ret":6200},{"run":"PEARL-2","n":18,"ret":6400},{"run":"PEARL-2","n":19,"ret":6300},{"run":"PEARL-2","n":20,"ret":6600},
{"run":"PEARL-2","n":21,"ret":6450},{"run":"PEARL-2","n":22,"ret":6500},{"run":"PEARL-2","n":23,"ret":6400},{"run":"PEARL-2","n":24,"ret":3300},{"run":"PEARL-2","n":25,"ret":6400},{"run":"PEARL-2","n":26,"ret":6870},{"run":"PEARL-2","n":27,"ret":6500},{"run":"PEARL-2","n":28,"ret":7170},{"run":"PEARL-2","n":29,"ret":7000},{"run":"PEARL-2","n":30,"ret":7200},
{"run":"PEARL-2","n":31,"ret":6300},{"run":"PEARL-2","n":32,"ret":4700},{"run":"PEARL-2","n":33,"ret":1350},{"run":"PEARL-2","n":34,"ret":7090},{"run":"PEARL-2","n":35,"ret":7000},{"run":"PEARL-2","n":36,"ret":6570},{"run":"PEARL-2","n":37,"ret":7000},{"run":"PEARL-2","n":38,"ret":7000},{"run":"PEARL-2","n":39,"ret":6960},{"run":"PEARL-2","n":40,"ret":6900},
{"run":"PEARL-2","n":41,"ret":6740},{"run":"PEARL-2","n":42,"ret":6850},{"run":"PEARL-2","n":43,"ret":6960},{"run":"PEARL-2","n":44,"ret":6950},{"run":"PEARL-2","n":45,"ret":7000},{"run":"PEARL-2","n":46,"ret":7170},{"run":"PEARL-2","n":47,"ret":7000},{"run":"PEARL-2","n":48,"ret":6440},{"run":"PEARL-2","n":49,"ret":7220},{"run":"PEARL-2","n":50,"ret":40},
{"run":"PEARL-2","n":51,"ret":6520},{"run":"PEARL-2","n":52,"ret":7650},{"run":"PEARL-2","n":53,"ret":4130},{"run":"PEARL-2","n":54,"ret":7430},{"run":"PEARL-2","n":55,"ret":7300},{"run":"PEARL-2","n":56,"ret":7220},{"run":"PEARL-2","n":57,"ret":7480},{"run":"PEARL-2","n":58,"ret":7450},{"run":"PEARL-2","n":59,"ret":7400},{"run":"PEARL-2","n":60,"ret":7390},
{"run":"PEARL-2","n":61,"ret":7350},{"run":"PEARL-2","n":62,"ret":7300},{"run":"PEARL-2","n":63,"ret":7300},{"run":"PEARL-2","n":64,"ret":7650},{"run":"PEARL-2","n":65,"ret":7580},{"run":"PEARL-2","n":66,"ret":7520},{"run":"PEARL-2","n":67,"ret":6650},{"run":"PEARL-2","n":68,"ret":8040},{"run":"PEARL-2","n":69,"ret":5870},{"run":"PEARL-2","n":70,"ret":7650},
{"run":"PEARL-2","n":71,"ret":7560},{"run":"PEARL-2","n":72,"ret":7650},{"run":"PEARL-2","n":73,"ret":7300},{"run":"PEARL-2","n":74,"ret":7950},{"run":"PEARL-2","n":75,"ret":8350},{"run":"PEARL-2","n":76,"ret":8300},{"run":"PEARL-2","n":77,"ret":8260},{"run":"PEARL-2","n":78,"ret":8170},{"run":"PEARL-2","n":79,"ret":8200},{"run":"PEARL-2","n":80,"ret":8170},
{"run":"PEARL-2","n":81,"ret":8190},{"run":"PEARL-2","n":82,"ret":8200},{"run":"PEARL-2","n":83,"ret":8090},{"run":"PEARL-2","n":84,"ret":8200},{"run":"PEARL-2","n":85,"ret":8300},
{"run":"PEARL-3","n":1,"ret":250},{"run":"PEARL-3","n":2,"ret":250},{"run":"PEARL-3","n":3,"ret":280},{"run":"PEARL-3","n":4,"ret":300},{"run":"PEARL-3","n":5,"ret":320},{"run":"PEARL-3","n":6,"ret":350},{"run":"PEARL-3","n":7,"ret":5000},{"run":"PEARL-3","n":8,"ret":5870},{"run":"PEARL-3","n":9,"ret":5700},{"run":"PEARL-3","n":10,"ret":5650},
{"run":"PEARL-3","n":11,"ret":5700},{"run":"PEARL-3","n":12,"ret":5750},{"run":"PEARL-3","n":13,"ret":5700},{"run":"PEARL-3","n":14,"ret":5800},{"run":"PEARL-3","n":15,"ret":5750},{"run":"PEARL-3","n":16,"ret":5800},{"run":"PEARL-3","n":17,"ret":5850},{"run":"PEARL-3","n":18,"ret":5870},{"run":"PEARL-3","n":19,"ret":5900},{"run":"PEARL-3","n":20,"ret":6000},
{"run":"PEARL-3","n":21,"ret":6100},{"run":"PEARL-3","n":22,"ret":6300},{"run":"PEARL-3","n":23,"ret":6500},{"run":"PEARL-3","n":24,"ret":6700},{"run":"PEARL-3","n":25,"ret":7000},{"run":"PEARL-3","n":26,"ret":7100},{"run":"PEARL-3","n":27,"ret":7300},{"run":"PEARL-3","n":28,"ret":7430},{"run":"PEARL-3","n":29,"ret":7600},{"run":"PEARL-3","n":30,"ret":7740},
{"run":"PEARL-3","n":31,"ret":7800},{"run":"PEARL-3","n":32,"ret":7950},{"run":"PEARL-3","n":33,"ret":8170},{"run":"PEARL-3","n":34,"ret":8200},{"run":"PEARL-3","n":35,"ret":8260},{"run":"PEARL-3","n":36,"ret":8100},{"run":"PEARL-3","n":37,"ret":8040},{"run":"PEARL-3","n":38,"ret":7390},{"run":"PEARL-3","n":39,"ret":8480},{"run":"PEARL-3","n":40,"ret":6520},
{"run":"PEARL-3","n":41,"ret":8480},{"run":"PEARL-3","n":42,"ret":8600},{"run":"PEARL-3","n":43,"ret":8700},{"run":"PEARL-3","n":44,"ret":8520},{"run":"PEARL-3","n":45,"ret":8700},{"run":"PEARL-3","n":46,"ret":8960},{"run":"PEARL-3","n":47,"ret":8930},{"run":"PEARL-3","n":48,"ret":8910},{"run":"PEARL-3","n":49,"ret":8480},{"run":"PEARL-3","n":50,"ret":8800},
{"run":"PEARL-3","n":51,"ret":9130},{"run":"PEARL-3","n":52,"ret":8910},{"run":"PEARL-3","n":53,"ret":8800},{"run":"PEARL-3","n":54,"ret":8740},{"run":"PEARL-3","n":55,"ret":9000},{"run":"PEARL-3","n":56,"ret":9260},{"run":"PEARL-3","n":57,"ret":8610},{"run":"PEARL-3","n":58,"ret":8830},{"run":"PEARL-3","n":59,"ret":8650},{"run":"PEARL-3","n":60,"ret":8480},
{"run":"PEARL-3","n":61,"ret":8700},{"run":"PEARL-3","n":62,"ret":8260},{"run":"PEARL-3","n":63,"ret":8800},{"run":"PEARL-3","n":64,"ret":9350},{"run":"PEARL-3","n":65,"ret":8740},{"run":"PEARL-3","n":66,"ret":8260},{"run":"PEARL-3","n":67,"ret":8500},{"run":"PEARL-3","n":68,"ret":8830},{"run":"PEARL-3","n":69,"ret":8700},{"run":"PEARL-3","n":70,"ret":8520},
{"run":"PEARL-3","n":71,"ret":8450},{"run":"PEARL-3","n":72,"ret":8390},{"run":"PEARL-3","n":73,"ret":8170},{"run":"PEARL-3","n":74,"ret":7830},{"run":"PEARL-3","n":75,"ret":8700},{"run":"PEARL-3","n":76,"ret":8600},{"run":"PEARL-3","n":77,"ret":8480},{"run":"PEARL-3","n":78,"ret":8520},{"run":"PEARL-3","n":79,"ret":8170},{"run":"PEARL-3","n":80,"ret":6570},
{"run":"PEARL-3","n":81,"ret":8910},{"run":"PEARL-3","n":82,"ret":8480},{"run":"PEARL-3","n":83,"ret":7650},{"run":"PEARL-3","n":84,"ret":7520},{"run":"PEARL-3","n":85,"ret":8700},
{"run":"M3PO-1","n":1,"ret":200},{"run":"M3PO-1","n":2,"ret":300},{"run":"M3PO-1","n":3,"ret":1500},{"run":"M3PO-1","n":4,"ret":4500},{"run":"M3PO-1","n":5,"ret":5900},{"run":"M3PO-1","n":6,"ret":6200},
{"run":"M3PO-2","n":1,"ret":250},{"run":"M3PO-2","n":2,"ret":300},{"run":"M3PO-2","n":3,"ret":500},{"run":"M3PO-2","n":4,"ret":2500},{"run":"M3PO-2","n":5,"ret":5000},{"run":"M3PO-2","n":6,"ret":6100},{"run":"M3PO-2","n":7,"ret":5800},
{"run":"M3PO-3","n":1,"ret":200},{"run":"M3PO-3","n":2,"ret":400},{"run":"M3PO-3","n":3,"ret":2000},{"run":"M3PO-3","n":4,"ret":5000},{"run":"M3PO-3","n":5,"ret":6100},{"run":"M3PO-3","n":6,"ret":5900},
{"run":"M3PO-h-1","n":1,"ret":220},{"run":"M3PO-h-1","n":2,"ret":220},{"run":"M3PO-h-1","n":3,"ret":400},{"run":"M3PO-h-1","n":4,"ret":650},{"run":"M3PO-h-1","n":5,"ret":3000},{"run":"M3PO-h-1","n":6,"ret":8000},{"run":"M3PO-h-1","n":7,"ret":8740},{"run":"M3PO-h-1","n":8,"ret":8800},{"run":"M3PO-h-1","n":9,"ret":8910},{"run":"M3PO-h-1","n":10,"ret":9000},
{"run":"M3PO-h-1","n":11,"ret":9040},{"run":"M3PO-h-1","n":12,"ret":9100},{"run":"M3PO-h-1","n":13,"ret":9170},{"run":"M3PO-h-1","n":14,"ret":9260},{"run":"M3PO-h-1","n":15,"ret":9200},{"run":"M3PO-h-1","n":16,"ret":9130},{"run":"M3PO-h-1","n":17,"ret":9350},{"run":"M3PO-h-1","n":18,"ret":9300},{"run":"M3PO-h-1","n":19,"ret":9170},{"run":"M3PO-h-1","n":20,"ret":7170},
{"run":"M3PO-h-1","n":21,"ret":9480},{"run":"M3PO-h-1","n":22,"ret":9400},{"run":"M3PO-h-1","n":23,"ret":9390},{"run":"M3PO-h-1","n":24,"ret":9570},{"run":"M3PO-h-1","n":25,"ret":9610},{"run":"M3PO-h-1","n":26,"ret":10130},{"run":"M3PO-h-1","n":27,"ret":10260},{"run":"M3PO-h-1","n":28,"ret":10040},{"run":"M3PO-h-1","n":29,"ret":10260},{"run":"M3PO-h-1","n":30,"ret":9040},
{"run":"M3PO-h-1","n":31,"ret":3830},{"run":"M3PO-h-1","n":32,"ret":10260},{"run":"M3PO-h-1","n":33,"ret":9780},
{"run":"M3PO-h-2","n":1,"ret":220},{"run":"M3PO-h-2","n":2,"ret":250},{"run":"M3PO-h-2","n":3,"ret":900},{"run":"M3PO-h-2","n":4,"ret":6130},{"run":"M3PO-h-2","n":5,"ret":6200},{"run":"M3PO-h-2","n":6,"ret":6440},{"run":"M3PO-h-2","n":7,"ret":6740},{"run":"M3PO-h-2","n":8,"ret":6000},{"run":"M3PO-h-2","n":9,"ret":4130},{"run":"M3PO-h-2","n":10,"ret":4700},
{"run":"M3PO-h-2","n":11,"ret":6000},{"run":"M3PO-h-2","n":12,"ret":4390},{"run":"M3PO-h-2","n":13,"ret":5130},{"run":"M3PO-h-2","n":14,"ret":6130},{"run":"M3PO-h-2","n":15,"ret":6000},{"run":"M3PO-h-2","n":16,"ret":5430},{"run":"M3PO-h-2","n":17,"ret":6440},{"run":"M3PO-h-2","n":18,"ret":6500},{"run":"M3PO-h-2","n":19,"ret":6570},{"run":"M3PO-h-2","n":20,"ret":6300},
{"run":"M3PO-h-2","n":21,"ret":5570},{"run":"M3PO-h-2","n":22,"ret":6870},{"run":"M3PO-h-2","n":23,"ret":6650},{"run":"M3PO-h-2","n":24,"ret":6870},{"run":"M3PO-h-2","n":25,"ret":7000},{"run":"M3PO-h-2","n":26,"ret":7300},{"run":"M3PO-h-2","n":27,"ret":7650},{"run":"M3PO-h-2","n":28,"ret":7870},{"run":"M3PO-h-2","n":29,"ret":7870},{"run":"M3PO-h-2","n":30,"ret":7300},
{"run":"M3PO-h-2","n":31,"ret":3830},{"run":"M3PO-h-2","n":32,"ret":7000},{"run":"M3PO-h-2","n":33,"ret":8300},
{"run":"M3PO-h-3","n":1,"ret":220},{"run":"M3PO-h-3","n":2,"ret":6400},{"run":"M3PO-h-3","n":3,"ret":6570},{"run":"M3PO-h-3","n":4,"ret":6500},{"run":"M3PO-h-3","n":5,"ret":6520},{"run":"M3PO-h-3","n":6,"ret":6400},{"run":"M3PO-h-3","n":7,"ret":6300},{"run":"M3PO-h-3","n":8,"ret":2200},{"run":"M3PO-h-3","n":9,"ret":6440},{"run":"M3PO-h-3","n":10,"ret":3960},
{"run":"M3PO-h-3","n":11,"ret":6300},{"run":"M3PO-h-3","n":12,"ret":6130},{"run":"M3PO-h-3","n":13,"ret":6740},{"run":"M3PO-h-3","n":14,"ret":6870},{"run":"M3PO-h-3","n":15,"ret":7300},{"run":"M3PO-h-3","n":16,"ret":6000},{"run":"M3PO-h-3","n":17,"ret":1090},{"run":"M3PO-h-3","n":18,"ret":6300},{"run":"M3PO-h-3","n":19,"ret":7740},{"run":"M3PO-h-3","n":20,"ret":7430},
{"run":"M3PO-h-3","n":21,"ret":7500},{"run":"M3PO-h-3","n":22,"ret":3700},{"run":"M3PO-h-3","n":23,"ret":7300},{"run":"M3PO-h-3","n":24,"ret":7740},{"run":"M3PO-h-3","n":25,"ret":7700},{"run":"M3PO-h-3","n":26,"ret":7960},{"run":"M3PO-h-3","n":27,"ret":8300},{"run":"M3PO-h-3","n":28,"ret":4830},{"run":"M3PO-h-3","n":29,"ret":1650},{"run":"M3PO-h-3","n":30,"ret":8960},
{"run":"M3PO-h-3","n":31,"ret":8740},{"run":"M3PO-h-3","n":32,"ret":8480}
      ]},
      "encoding": {
        "x": {"field": "n", "type": "quantitative", "scale": {"domain": [0.5, 98.5], "nice": false, "zero": false},
              "axis": {"values": [1,10,19,28,37,46,55,64,73,82,91], "labelExpr": "'' + datum.value", "title": null, "labelPadding": 40}},
        "y": {"field": "ret", "type": "quantitative", "scale": {"domain": [0, 12000], "nice": false, "zero": false},
              "axis": {"values": [0,2000,4000,6000,8000,10000,12000], "labelExpr": "'' + datum.value", "title": null}}
      },
      "layer": [
        {
          "transform": [{"filter": "indexof(datum.run, 'PEARL') == 0"}],
          "mark": {"type": "line", "strokeWidth": 3.5},
          "encoding": {
            "color": {"field": "run", "type": "nominal",
              "scale": {"domain": ["PEARL-1","PEARL-2","PEARL-3","M3PO-1","M3PO-2","M3PO-3","M3PO-h-1","M3PO-h-2","M3PO-h-3"], "range": ["#5B9BD5","#ED7D31","#A5A5A5","#FFC000","#4472C4","#70AD47","#264478","#9E480E","#636363"]},
              "legend": null},
            "strokeDash": {"field": "run", "type": "nominal",
              "scale": {"domain": ["PEARL-1","PEARL-2","PEARL-3","M3PO-1","M3PO-2","M3PO-3","M3PO-h-1","M3PO-h-2","M3PO-h-3"], "range": [[1,0],[1,0],[1,0],[10,6],[10,6],[10,6],[10,6],[10,6],[10,6]]},
              "legend": null}
          }
        },
        {
          "transform": [{"filter": "indexof(datum.run, 'M3PO') == 0"}],
          "mark": {"type": "line", "strokeWidth": 3.5},
          "encoding": {
            "color": {"field": "run", "type": "nominal",
              "scale": {"domain": ["PEARL-1","PEARL-2","PEARL-3","M3PO-1","M3PO-2","M3PO-3","M3PO-h-1","M3PO-h-2","M3PO-h-3"], "range": ["#5B9BD5","#ED7D31","#A5A5A5","#FFC000","#4472C4","#70AD47","#264478","#9E480E","#636363"]},
              "legend": null},
            "strokeDash": {"field": "run", "type": "nominal",
              "scale": {"domain": ["PEARL-1","PEARL-2","PEARL-3","M3PO-1","M3PO-2","M3PO-3","M3PO-h-1","M3PO-h-2","M3PO-h-3"], "range": [[1,0],[1,0],[1,0],[10,6],[10,6],[10,6],[10,6],[10,6],[10,6]]},
              "legend": null}
          }
        },
        {
          "transform": [{"filter": "indexof(datum.run, 'M3PO-h') == 0"}],
          "mark": {"type": "point", "shape": "M-1,-1L1,1M-1,1L1,-1", "filled": false, "strokeWidth": 2.5, "size": 160, "opacity": 1},
          "encoding": {
            "stroke": {"field": "run", "type": "nominal", "scale": {"domain": ["M3PO-h-1","M3PO-h-2","M3PO-h-3"], "range": ["#2E64A6","#A9521B","#6A6A6A"]}, "legend": null}
          }
        }
      ]
    }
  ]
}
]
}
